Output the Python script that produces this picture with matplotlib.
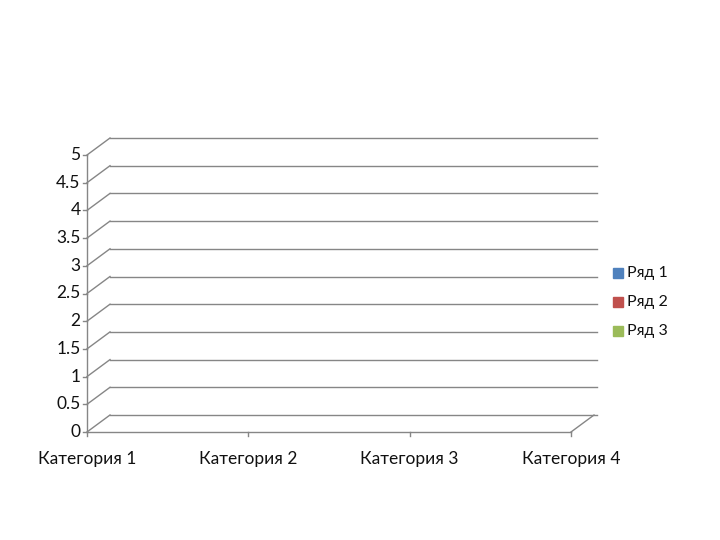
import numpy as np
import matplotlib.pyplot as plt
from matplotlib.patches import Rectangle

categories = ["Категория 1", "Категория 2", "Категория 3", "Категория 4"]
series = ["Ряд 1", "Ряд 2", "Ряд 3"]
colors = ["#4F81BD", "#C0504D", "#9BBB59"]
y_ticks = [0, 0.5, 1, 1.5, 2, 2.5, 3, 3.5, 4, 4.5, 5]
y_labels = ["0", "0.5", "1", "1.5", "2", "2.5", "3", "3.5", "4", "4.5", "5"]

plt.rcParams['font.family'] = ['Lato', 'DejaVu Sans']

fig = plt.figure(figsize=(7.2, 5.4), dpi=100)
ax = fig.add_axes([87/720, 108/540, (597-87)/720, (432-138)/540])
ax.axis("off")

n = len(categories) - 1
# perspective depth of the 3D wall, in data units
dx = 23 / 161.3
dy = 17 / 55.4
ax.set_xlim(0, n + dx * 1.13)
ax.set_ylim(0, y_ticks[-1] + dy)

grid = "#868686"
txt = "#111111"
for v, lab in zip(y_ticks, y_labels):
    ax.plot([0, dx], [v, v + dy], color=grid, lw=1, clip_on=False)
    ax.plot([dx, n + dx * 1.13], [v + dy, v + dy], color=grid, lw=1, clip_on=False)
    ax.plot([-0.025, 0], [v, v], color=grid, lw=1, clip_on=False)
    ax.text(-0.04, v, lab, ha="right", va="center", fontsize=12.5, color=txt)

# vertical axis and floor
ax.plot([0, 0], [0, y_ticks[-1]], color=grid, lw=1, clip_on=False)
ax.plot([0, n], [0, 0], color=grid, lw=1, clip_on=False)
ax.plot([n, n + dx], [0, dy], color=grid, lw=1, clip_on=False)
for i, c in enumerate(categories):
    ax.plot([i, i], [0, -0.07], color=grid, lw=1, clip_on=False)
    ax.text(i, -0.48, c, ha="center", va="center", fontsize=12.5, color=txt)

# legend (empty series)
for k, (s, col) in enumerate(zip(series, colors)):
    yy = 1 - (273 + 29 * k) / 540
    fig.patches.append(Rectangle((613/720, yy - 5/540), 10/720, 10/540,
                                 transform=fig.transFigure, color=col))
    fig.text(627/720, yy, s, ha="left", va="center", fontsize=11.5, color=txt)

fig.savefig("out.png", dpi=100)
